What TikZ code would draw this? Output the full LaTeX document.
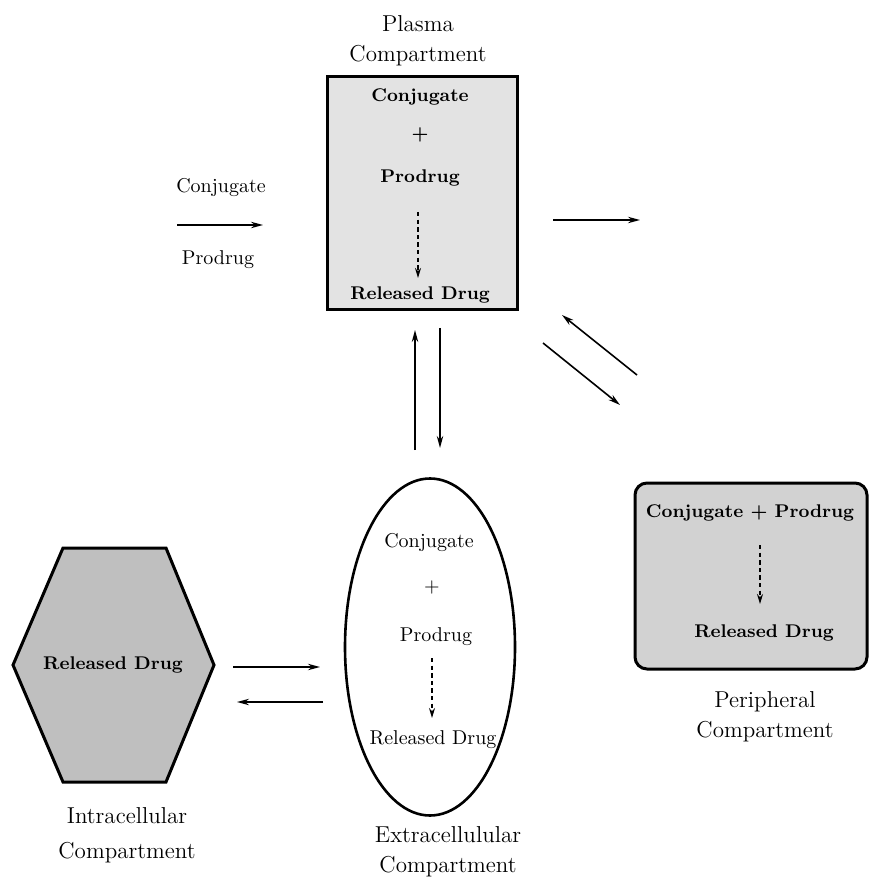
\documentclass[tikz,border=0pt]{standalone}
\usetikzlibrary{shapes.geometric,arrows.meta}
\begin{document}
\begin{tikzpicture}[x=0.5pt,y=-0.5pt,
  arr/.style={line width=0.8pt,-{Stealth[length=6pt,width=3.2pt]}},
  darr/.style={line width=0.7pt,dash pattern=on 2.2pt off 1.6pt,-{Stealth[length=5pt,width=3pt]}},
  lbl/.style={font=\fontsize{11.5}{15}\selectfont, align=center, inner sep=0},
  btxt/.style={font=\fontsize{9.2}{11}\selectfont\bfseries, inner sep=0},
  ntxt/.style={font=\fontsize{10}{12}\selectfont, inner sep=0},
  boxshape/.style={draw, line width=1.5pt, inner sep=0}]
\useasboundingbox (0,0) rectangle (869,886);

% Plasma compartment
\node[boxshape, fill=gray!22, minimum width=95pt, minimum height=116.5pt] (plasma) at (422,193) {};
\node[lbl] (plasmalbl) at (418,41) {Plasma\\Compartment};
\node[btxt] (pconj) at (420,97) {Conjugate};
\node[btxt] (pplus) at (420,135) {+};
\node[btxt] (ppro) at (420,178) {Prodrug};
\node[btxt] (prel) at (420,295) {Released Drug};
\coordinate (pa1) at (418,212);
\coordinate (pa2) at (418,278);
\draw[darr] (pa1) -- (pa2);

% Input
\node[ntxt] (inconj) at (221,188) {Conjugate};
\node[ntxt] (inpro) at (218,260) {Prodrug};
\coordinate (in1) at (177,225);
\coordinate (in2) at (263,225);
\draw[arr] (in1) -- (in2);

% Elimination arrow
\coordinate (out1) at (553,220);
\coordinate (out2) at (640,220);
\draw[arr] (out1) -- (out2);

% Peripheral compartment
\node[boxshape, fill=gray!35, rounded corners=6pt, minimum width=116pt, minimum height=93pt] (per) at (751,576) {};
\node[btxt] (perconj) at (750,513) {Conjugate + Prodrug};
\node[btxt] (perrel) at (764,633) {Released Drug};
\coordinate (pe1) at (760,545);
\coordinate (pe2) at (760,604);
\draw[darr] (pe1) -- (pe2);
\node[lbl] (perlbl) at (765,717) {Peripheral\\Compartment};

% Plasma <-> peripheral
\coordinate (d1a) at (637,375);
\coordinate (d1b) at (562,315);
\draw[arr] (d1a) -- (d1b);
\coordinate (d2a) at (543,343);
\coordinate (d2b) at (620,405);
\draw[arr] (d2a) -- (d2b);

% Plasma <-> extracellular
\coordinate (v1a) at (415,450);
\coordinate (v1b) at (415,330);
\draw[arr] (v1a) -- (v1b);
\coordinate (v2a) at (440,328);
\coordinate (v2b) at (440,448);
\draw[arr] (v2a) -- (v2b);

% Extracellular compartment
\node[ellipse, draw, line width=1.3pt, fill=white, inner sep=0, minimum width=85pt, minimum height=168.5pt] (ecf) at (430,647) {};
\node[ntxt] (econj) at (429,543) {Conjugate};
\node[ntxt] (eplus) at (432,587) {+};
\node[ntxt] (epro) at (436,637) {Prodrug};
\node[ntxt] (erel) at (433,740) {Released Drug};
\coordinate (ea1) at (432,658);
\coordinate (ea2) at (432,718);
\draw[darr] (ea1) -- (ea2);
\node[lbl] (ecflbl) at (448,852) {Extracellulular\\Compartment};

% Intracellular compartment
\draw[line width=1.5pt, fill=gray!50] (63,548) -- (166,548) -- (214,665) -- (166,782) -- (63,782) -- (13,665) -- cycle;
\node[btxt] (hexrel) at (113,665) {Released Drug};
\node[lbl, font=\fontsize{11.5}{17.5}\selectfont] (hexlbl) at (127,835) {Intracellular\\Compartment};

% Intracellular <-> extracellular
\coordinate (h1a) at (233,667);
\coordinate (h1b) at (320,667);
\draw[arr] (h1a) -- (h1b);
\coordinate (h2a) at (323,702);
\coordinate (h2b) at (237,702);
\draw[arr] (h2a) -- (h2b);
\end{tikzpicture}
\end{document}
